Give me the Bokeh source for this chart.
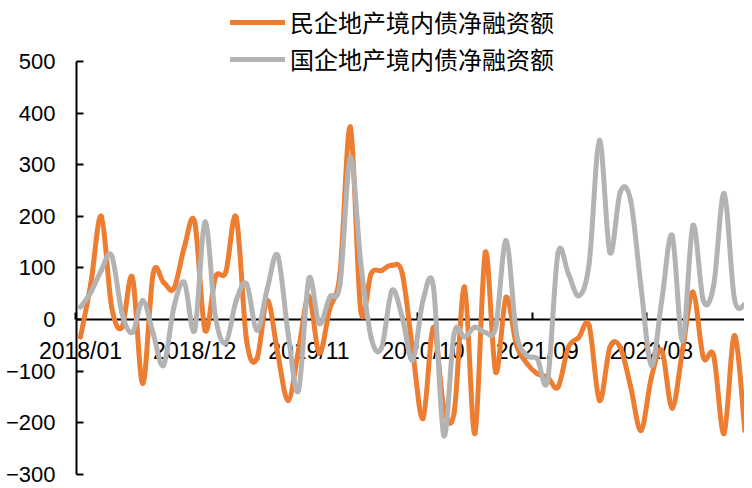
from bokeh.plotting import figure
from bokeh.models import Range1d, LinearAxis, FixedTicker, Legend, LegendItem, ColumnDataSource
from bokeh.embed import file_html
from bokeh.resources import INLINE

# ---- data -------------------------------------------------------------
months = [f"{2018 + m // 12}/{m % 12 + 1:02d}" for m in range(65)]  # 2018/01 .. 2023/05

private_net = [-34, 70, 200, 24, -15, 82, -124, 89, 72, 60, 140, 189, -21, 82, 92, 198,
               -41, -76, 37, -66, -157, -60, 45, -65, 20, 89, 373, 17, 89, 95, 105,
               89, -60, -192, -15, -170, -180, 63, -221, 130, -102, 43, -50, -85, -105,
               -112, -131, -54, -35, -12, -157, -54, -54, -130, -215, -112, -60, -172,
               -60, 53, -73, -70, -221, -31, -215]

state_net = [24, 53, 95, 124, 12, -25, 37, -27, -89, 24, 72, -21, 189, 5, -45, 37,
             69, -21, 60, 124, -27, -138, 79, -8, 43, 69, 314, 110, -35, -55, 56,
             4, -79, 37, 63, -225, -27, -34, -15, -25, -15, 153, -27, -70, -76,
             -118, 128, 89, 46, 108, 347, 130, 247, 231, 63, -89, 37, 163,
             -41, 182, 37, 66, 244, 40, 29]

series_names = ["民企地产境内债净融资额", "国企地产境内债净融资额"]
series_colors = ["#ED7D31", "#B3B3B3"]

label_idx = [0, 11, 22, 33, 44, 55]
x_tick_labels = {i: months[i] for i in label_idx}
y_ticks = [-300, -200, -100, 0, 100, 200, 300, 400, 500]

FONT = "Liberation Sans"


def smooth_source(vals):
    """Cubic Bezier pieces through every data point (Catmull-Rom style smoothing)."""
    n = len(vals)
    t = 1.0 / 6.0
    d = dict(x0=[], y0=[], x1=[], y1=[], cx0=[], cy0=[], cx1=[], cy1=[])
    for i in range(n - 1):
        a, b = max(i - 1, 0), min(i + 2, n - 1)
        d["x0"].append(i)
        d["y0"].append(vals[i])
        d["x1"].append(i + 1)
        d["y1"].append(vals[i + 1])
        d["cx0"].append(i + (i + 1 - a) * t)
        d["cy0"].append(vals[i] + (vals[i + 1] - vals[a]) * t)
        d["cx1"].append(i + 1 - (b - i) * t)
        d["cy1"].append(vals[i + 1] - (vals[b] - vals[i]) * t)
    return ColumnDataSource(d)


# ---- figure -----------------------------------------------------------
W, H = 744, 488
PX_PER_MONTH = 10.38
PX_PER_UNIT = 0.516
X_START = -80 / PX_PER_MONTH
X_END = X_START + W / PX_PER_MONTH
Y_AXIS_X = -4 / PX_PER_MONTH          # where the value axis stands
Y_END = 500 + 61 / PX_PER_UNIT
Y_START = Y_END - H / PX_PER_UNIT

p = figure(width=W, height=H,
           x_range=Range1d(X_START, X_END), y_range=Range1d(Y_START, Y_END),
           x_axis_location=None, y_axis_location=None,
           output_backend="svg", toolbar_location=None,
           min_border_left=0, min_border_right=0, min_border_top=0, min_border_bottom=0)
p.outline_line_color = None
p.grid.visible = False
p.background_fill_color = "white"
p.border_fill_color = "white"

# value axis
yax = LinearAxis(ticker=FixedTicker(ticks=y_ticks), bounds=(-300, 500), fixed_location=Y_AXIS_X)
yax.axis_line_color = "black"
yax.axis_line_width = 2
yax.major_tick_in = 7
yax.major_tick_out = 0
yax.major_tick_line_width = 2
yax.minor_tick_line_color = None
yax.major_label_standoff = 21
yax.major_label_text_font = FONT
yax.major_label_text_font_size = "22px"
yax.major_label_text_color = "black"
p.add_layout(yax, "left")

# category axis at zero, labels centred on months, tick marks between months
xax = LinearAxis(ticker=FixedTicker(ticks=label_idx, minor_ticks=[i - 0.5 for i in label_idx]),
                 fixed_location=0, bounds=(Y_AXIS_X, X_END),
                 major_label_overrides=x_tick_labels)
xax.axis_line_color = "black"
xax.axis_line_width = 2
xax.major_tick_line_color = None
xax.major_tick_in = 0
xax.major_tick_out = 0
xax.minor_tick_in = 7
xax.minor_tick_out = 0
xax.minor_tick_line_color = "black"
xax.minor_tick_line_width = 2
xax.major_label_standoff = 18
xax.major_label_text_font = FONT
xax.major_label_text_font_size = "23px"
xax.major_label_text_color = "black"
p.add_layout(xax, "below")

renderers = []
for vals, color in zip([private_net, state_net], series_colors):
    r = p.bezier(x0="x0", y0="y0", x1="x1", y1="y1", cx0="cx0", cy0="cy0", cx1="cx1", cy1="cy1",
                 source=smooth_source(vals), line_color=color, line_width=5, line_cap="round",
                 level="overlay")
    renderers.append(r)

legend = Legend(items=[LegendItem(label=n, renderers=[r]) for n, r in zip(series_names, renderers)],
                location=(230, H - 76))
legend.orientation = "vertical"
legend.border_line_color = None
legend.background_fill_alpha = 0
legend.padding = 0
legend.margin = 0
legend.spacing = 2
legend.glyph_width = 55
legend.label_standoff = 5
legend.label_text_font = "Noto Sans CJK SC"
legend.label_text_font_size = "24px"
legend.label_text_color = "black"
p.add_layout(legend)

open("out.html", "w").write(file_html(p, INLINE))
